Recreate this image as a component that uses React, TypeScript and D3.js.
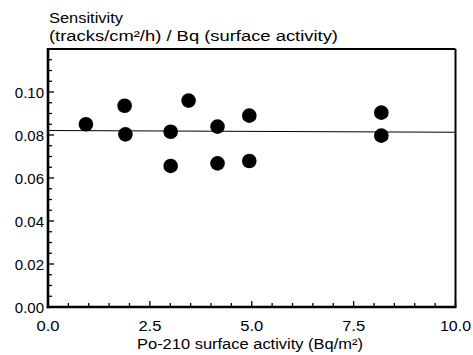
import React from "react";
import * as d3 from "d3";

const xValues = [0.93, 1.88, 1.9, 3.01, 3.01, 3.45, 4.16, 4.16, 4.94, 4.94, 8.18, 8.18];
const yValues = [0.085, 0.0936, 0.0803, 0.0815, 0.0656, 0.096, 0.0839, 0.0668, 0.089, 0.0679, 0.0904, 0.0797];
const fitX = [0, 10];
const fitY = [0.0821, 0.0813];
const xTicks = [0, 2.5, 5, 7.5, 10];
const yTicks = [0, 0.02, 0.04, 0.06, 0.08, 0.1];
const titleLines = ["Sensitivity", "(tracks/cm²/h) / Bq (surface activity)"];
const xTitle = "Po-210 surface activity (Bq/m²)";

export default function App() {
  const W = 473, H = 355;
  const L = 48, R = 455.5, T = 49, B = 307;
  const x = d3.scaleLinear().domain([0, 10]).range([L, R]);
  const y = d3.scaleLinear().domain([0, 0.12]).range([B, T]);
  const xMinor = d3.range(0, 10.001, 0.5);
  const yMinor = d3.range(0, 0.1201, 0.005);
  const font = "Liberation Sans, Arial, Helvetica, sans-serif";
  const line = d3.line<number>().x((d, i) => x(fitX[i])).y((d) => y(d));
  return (
    <svg width={W} height={H} style={{ position: "absolute", left: 0, top: 0, background: "#fff" }} fontFamily={font}>
      <text x={49} y={23} fontSize={14} fill="#000" textLength={74} lengthAdjust="spacingAndGlyphs">{titleLines[0]}</text>
      <text x={49} y={41} fontSize={14} fill="#000" textLength={289} lengthAdjust="spacingAndGlyphs">{titleLines[1]}</text>
      {xMinor.map((v, i) => (
        <line key={"xm" + i} x1={x(v)} x2={x(v)} y1={B} y2={B - (Math.abs(v % 2.5) < 1e-6 ? 6 : 4)} stroke="#000" strokeWidth={1.3} />
      ))}
      {yMinor.map((v, i) => (
        <line key={"ym" + i} x1={L} x2={L + (Math.abs(Math.round(v * 1000) % 20) < 1e-6 ? 6 : 4)} y1={y(v)} y2={y(v)} stroke="#000" strokeWidth={1.3} />
      ))}
      <path d={line(fitY) || ""} stroke="#000" strokeWidth={1.1} fill="none" />
      {xValues.map((v, i) => (
        <circle key={"p" + i} cx={x(v)} cy={y(yValues[i])} r={7.3} fill="#000" />
      ))}
      <line x1={L} x2={R} y1={T} y2={T} stroke="#000" strokeWidth={2} />
      <line x1={R} x2={R} y1={T} y2={B} stroke="#000" strokeWidth={2} />
      <line x1={L} x2={L} y1={T - 1} y2={B + 1.3} stroke="#000" strokeWidth={2.6} />
      <line x1={L - 1.3} x2={R + 1} y1={B} y2={B} stroke="#000" strokeWidth={2.6} />
      {yTicks.map((v, i) => (
        <text key={"yl" + i} x={L - 4} y={y(v) + 5.5} fontSize={15} textAnchor="end" fill="#000">{v.toFixed(2)}</text>
      ))}
      {xTicks.map((v, i) => (
        <text key={"xl" + i} x={x(v)} y={331} fontSize={14} textAnchor="middle" fill="#000" textLength={v >= 10 ? 31 : 23} lengthAdjust="spacingAndGlyphs">{v.toFixed(1)}</text>
      ))}
      <text x={250} y={349} fontSize={14} textAnchor="middle" fill="#000" textLength={226} lengthAdjust="spacingAndGlyphs">{xTitle}</text>
    </svg>
  );
}
